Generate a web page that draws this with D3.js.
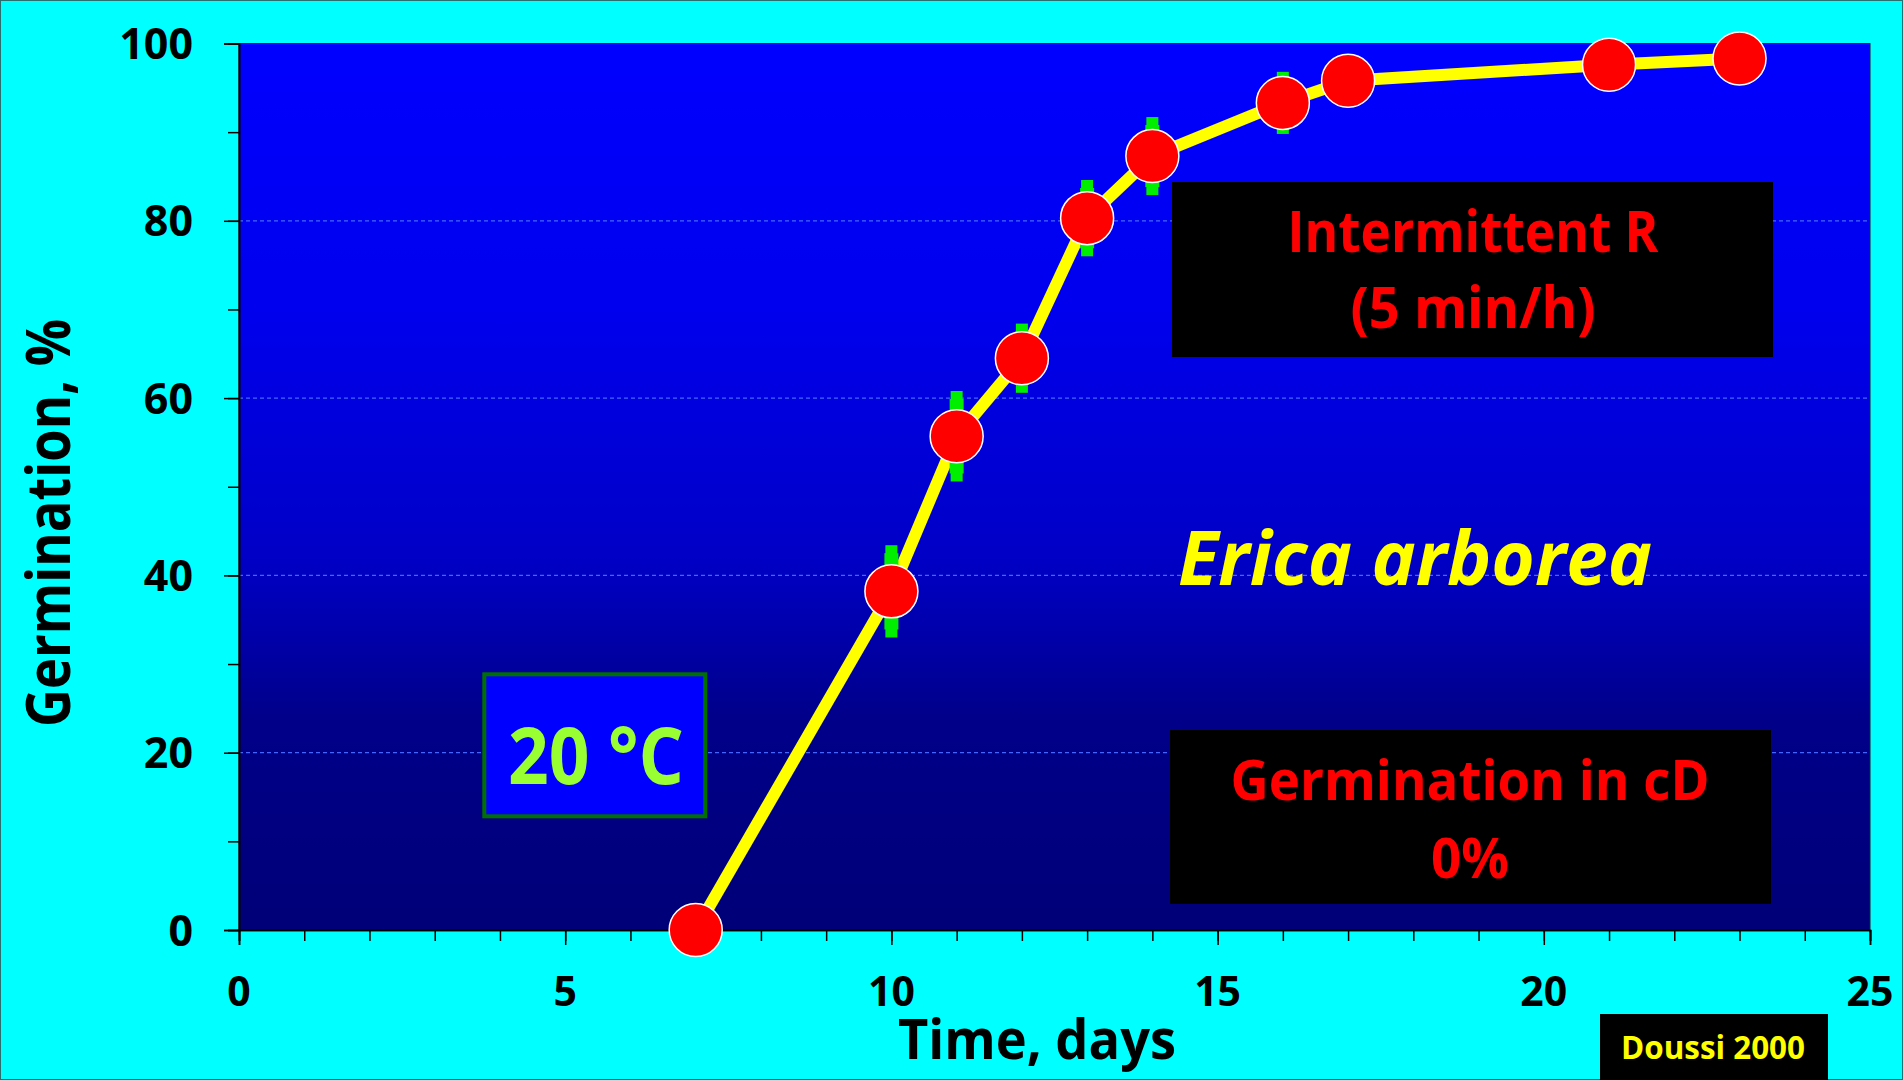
<!DOCTYPE html>
<html>
<head>
<meta charset="utf-8">
<script src="https://cdn.jsdelivr.net/npm/d3@7"></script>
<style>
  html, body { margin: 0; padding: 0; background: #00FFFF; }
  svg { display: block; }
  text { font-family: "Open Sans", "Noto Sans", sans-serif; font-weight: 700; }
</style>
</head>
<body>
<svg id="chart" width="1903" height="1080"></svg>
<script>
// ---- data ----
const days = [7, 10, 11, 12, 13, 14, 16, 17, 21, 23];
const germination = [0, 38.2, 55.7, 64.5, 80.3, 87.3, 93.3, 95.8, 97.6, 98.3];
const errors = [0, 4.3, 4.2, 3.0, 3.4, 3.5, 2.6, 1.8, 1.2, 1.0];
const xTicks = [0, 5, 10, 15, 20, 25];
const yTicks = [0, 20, 40, 60, 80, 100];
const gridValues = [20, 40, 60, 80];

const points = days.map((d, i) => ({ x: d, y: germination[i], e: errors[i] }));

const svg = d3.select("#chart");
const W = 1903, H = 1080;
const L = 239, R = 1870, T = 43.5, B = 930;

const x = d3.scaleLinear().domain([0, 25]).range([L, R]);
const y = d3.scaleLinear().domain([0, 100]).range([B, T]);

// page background + frame
svg.append("rect").attr("x", 0.5).attr("y", 0.5).attr("width", W - 1).attr("height", H - 1)
  .attr("fill", "#00FFFF").attr("stroke", "#2a6f6f").attr("stroke-width", 1);

// gradient
const defs = svg.append("defs");
const g = defs.append("linearGradient").attr("id", "bg").attr("x1", 0).attr("y1", 0).attr("x2", 0).attr("y2", 1);
[[0, "#0000FF"], [0.3, "#0000EE"], [0.58, "#0000C6"], [0.68, "#0000A6"], [0.76, "#00008A"], [1, "#000078"]]
  .forEach(([o, c]) => g.append("stop").attr("offset", o).attr("stop-color", c));

svg.append("rect").attr("x", L).attr("y", T).attr("width", R - L).attr("height", B - T)
  .attr("fill", "url(#bg)").attr("stroke", "#1a1a2a").attr("stroke-width", 1);

// gridlines
svg.append("g").selectAll("line").data(gridValues).join("line")
  .attr("x1", L).attr("x2", R).attr("y1", d => y(d)).attr("y2", d => y(d))
  .attr("stroke", "#4466ff").attr("stroke-width", 1.2).attr("stroke-dasharray", "4,3");

// axes
const yMinor = d3.range(0, 101, 10);
const xMinor = d3.range(0, 26, 1);

const yAxisMinor = d3.axisLeft(y).tickValues(yMinor).tickSize(11).tickFormat("");
const yAxisMajor = d3.axisLeft(y).tickValues(yTicks).tickSize(15).tickFormat("");
const xAxisMinor = d3.axisBottom(x).tickValues(xMinor).tickSize(11).tickFormat("");
const xAxisMajor = d3.axisBottom(x).tickValues(xTicks).tickSize(15).tickFormat("");

function styleAxis(sel) {
  sel.selectAll("path").attr("stroke", "#000").attr("stroke-width", 1.6);
  sel.selectAll("line").attr("stroke", "#000").attr("stroke-width", 1.5);
}
svg.append("g").attr("transform", `translate(${L},0)`).call(yAxisMinor).call(styleAxis);
svg.append("g").attr("transform", `translate(${L},0)`).call(yAxisMajor).call(styleAxis);
svg.append("g").attr("transform", `translate(0,${B})`).call(xAxisMinor).call(styleAxis);
svg.append("g").attr("transform", `translate(0,${B})`).call(xAxisMajor).call(styleAxis);

// tick labels
svg.append("g").selectAll("text").data(yTicks).join("text")
  .attr("x", 193).attr("y", d => y(d) + 15.5)
  .attr("text-anchor", "end").attr("font-size", 43).attr("fill", "#000")
  .text(d => d);
svg.append("g").selectAll("text").data(xTicks).join("text")
  .attr("x", d => x(d)).attr("y", 1006)
  .attr("text-anchor", "middle").attr("font-size", 41).attr("fill", "#000")
  .text(d => d);

// axis titles
svg.append("text").attr("transform", "translate(70,523) rotate(-90)")
  .attr("text-anchor", "middle").attr("font-size", 60).attr("fill", "#000")
  .attr("textLength", 408).attr("lengthAdjust", "spacingAndGlyphs")
  .text("Germination, %");
svg.append("text").attr("x", 1037).attr("y", 1059)
  .attr("text-anchor", "middle").attr("font-size", 55).attr("fill", "#000")
  .attr("textLength", 278).attr("lengthAdjust", "spacingAndGlyphs")
  .text("Time, days");

// annotation boxes
function box(x0, y0, w, h, fill, stroke, sw) {
  svg.append("rect").attr("x", x0).attr("y", y0).attr("width", w).attr("height", h)
    .attr("fill", fill).attr("stroke", stroke || "none").attr("stroke-width", sw || 0);
}
function label(txt, cx, base, size, color, len, opts = {}) {
  const t = svg.append("text").attr("x", cx).attr("y", base)
    .attr("text-anchor", opts.anchor || "middle").attr("font-size", size).attr("fill", color)
    .text(txt);
  if (len) t.attr("textLength", len).attr("lengthAdjust", "spacingAndGlyphs");
  if (opts.italic) t.attr("font-style", "italic");
  return t;
}

box(1172, 182, 601, 175, "#000");
label("Intermittent R", 1473, 252, 57, "#FF0000", 371);
label("(5 min/h)", 1473, 328, 57, "#FF0000", 245);

box(1170, 730, 601, 174, "#000");
label("Germination in cD", 1470, 800, 56, "#FF0000", 479);
label("0%", 1470, 878, 56, "#FF0000", 78);

box(484.3, 674.3, 221, 142, "#0000FF", "#007000", 4);
label("20 °C", 596, 784, 78, "#99FF33", 176);

label("Erica arborea", 1178, 585, 75, "#FFFF00", 474, { anchor: "start", italic: true });

box(1600, 1014, 228, 66, "#000");
label("Doussi 2000", 1713, 1059, 33, "#FFFF00", 184);

// line
const line = d3.line().x(d => x(d.x)).y(d => y(d.y));
svg.append("path").datum(points).attr("d", line)
  .attr("fill", "none").attr("stroke", "#FFFF00").attr("stroke-width", 12)
  .attr("stroke-linejoin", "round");

// error bars
const eg = svg.append("g").attr("fill", "#00EE00");
points.filter(p => p.e > 0).forEach(p => {
  const cx = x(p.x), yt = y(p.y + p.e), yb = y(p.y - p.e);
  eg.append("rect").attr("x", cx - 7).attr("y", yt).attr("width", 14).attr("height", yb - yt);
  eg.append("rect").attr("x", cx - 6).attr("y", yt - 8).attr("width", 12).attr("height", 16);
  eg.append("rect").attr("x", cx - 6).attr("y", yb - 8).attr("width", 12).attr("height", 16);
});

// markers
svg.append("g").selectAll("circle").data(points).join("circle")
  .attr("cx", d => x(d.x)).attr("cy", d => y(d.y)).attr("r", 26.5)
  .attr("fill", "#FF0000").attr("stroke", "#FFFFFF").attr("stroke-width", 1.5);
</script>
</body>
</html>
